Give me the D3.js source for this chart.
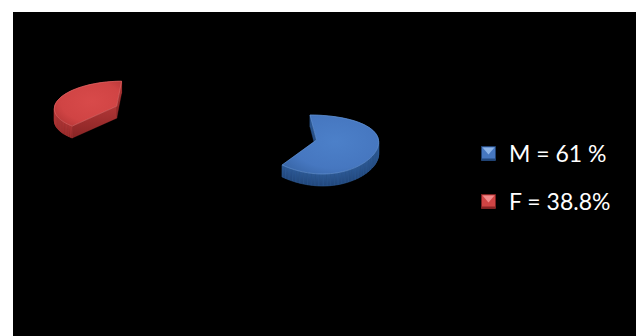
<!DOCTYPE html>
<html><head><meta charset="utf-8">
<script src="https://cdn.jsdelivr.net/npm/d3@7"></script>
<style>html,body{margin:0;padding:0;background:#fff;}svg{display:block;}</style>
</head><body>
<script>
// ---- data ----
const categories = ["M", "F"];
const values = [61, 38.8];
const legendLabels = ["M = 61 %", "F = 38.8%"];
const explode = [0, 3.43];

// ---- styles / 3D view (per slice perspective tweaks) ----
const palette = {
  M: {top: "#4677c0", topC: "#4c80c9", edge: "#3a68aa", side: "#2d5a96", sideDark: "#21467a", light: "#8db4e8", rim: "#6a98d8"},
  F: {top: "#d04444", topC: "#d84a4a", edge: "#b93838", side: "#b03636", sideDark: "#882424", light: "#f08a8a", rim: "#e47070"}
};
const view = {M: {kx: -0.026, ky: 0.153, skew: -6.3, ry: 28.8}, F: {kx: 0.022, ky: 0.022, skew: 5, ry: 25.5}};

const W = 638, H = 336;
const svg = d3.select("body").append("svg").attr("width", W).attr("height", H);
svg.append("rect").attr("x", 13).attr("y", 12).attr("width", 623).attr("height", 324).attr("fill", "#000");

const defs = svg.append("defs");
categories.forEach(c => {
  const p = palette[c];
  const g = defs.append("radialGradient").attr("id", "top" + c)
    .attr("cx", "55%").attr("cy", "45%").attr("r", "65%");
  g.append("stop").attr("offset", "0%").attr("stop-color", p.topC);
  g.append("stop").attr("offset", "70%").attr("stop-color", p.top);
  g.append("stop").attr("offset", "100%").attr("stop-color", p.edge);
  const s = defs.append("linearGradient").attr("id", "side" + c)
    .attr("x1", 0).attr("y1", 0).attr("x2", 0).attr("y2", 1);
  s.append("stop").attr("offset", "0%").attr("stop-color", p.side);
  s.append("stop").attr("offset", "100%").attr("stop-color", p.sideDark);
});

const cx = 316.5, cy = 140, rx = 62, ry0 = 28.8, depth = 12;
const pie = d3.pie().sort(null).startAngle(0).endAngle(2 * Math.PI);
const arcs = pie(values);

const g = svg.append("g");
arcs.forEach((d, i) => {
  const c = categories[i];
  const v = view[c];
  const mid = (d.startAngle + d.endAngle) / 2;
  const ox = cx + explode[i] * rx * Math.sin(mid);
  const oy = cy - explode[i] * ry0 * Math.cos(mid);
  const proj = (X, Z, down = 0) => {
    const wx = 1 + v.kx * Z, wy = 1 + v.ky * Z;
    return [ox + (rx * X + v.skew * Z) / wx, oy - v.ry * Z / wy + down];
  };
  const pa = (a, down = 0) => proj(Math.sin(a), Math.cos(a), down);
  const sg = g.append("g");
  const faces = [];
  const quad = (p1, p2) => {
    const q1 = [p1[0], p1[1] + depth], q2 = [p2[0], p2[1] + depth];
    return `M${p1}L${p2}L${q2}L${q1}Z`;
  };
  // radial cut faces
  [d.startAngle, d.endAngle].forEach(a => {
    const e = pa(a);
    faces.push({order: (oy + e[1]) / 2, d: quad([ox, oy], e)});
  });
  // outer wall, as strips
  const N = 60;
  const angs = d3.range(N + 1).map(k => d.startAngle + (d.endAngle - d.startAngle) * k / N);
  for (let k = 0; k < N; k++) {
    const p1 = pa(angs[k]), p2 = pa(angs[k + 1]);
    faces.push({order: (p1[1] + p2[1]) / 2, d: quad(p1, p2), wall: true});
  }
  faces.sort((a, b) => a.order - b.order).forEach(f => {
    sg.append("path").attr("d", f.d).attr("fill", `url(#side${c})`)
      .attr("stroke", palette[c].side).attr("stroke-width", f.wall ? 0.6 : 0.3).attr("stroke-linejoin", "round");
  });
  // top face
  const tp = d3.path();
  tp.moveTo(ox, oy);
  angs.forEach(a => { const q = pa(a); tp.lineTo(q[0], q[1]); });
  tp.closePath();
  sg.append("path").attr("d", tp.toString()).attr("fill", `url(#top${c})`)
    .attr("stroke", palette[c].rim).attr("stroke-opacity", 0.7).attr("stroke-width", 0.8)
    .attr("stroke-linejoin", "round");
});

// legend
const ly = d3.scalePoint().domain(categories).range([153.5, 201.5]);
const lg = svg.append("g");
categories.forEach((c, i) => {
  const y = ly(c), x = 481.5, s = 14;
  const p = palette[c];
  const mg = lg.append("g");
  mg.append("rect").attr("x", x).attr("y", y - s / 2).attr("width", s).attr("height", s).attr("fill", p.top);
  mg.append("path").attr("d", `M${x + 1},${y - s / 2 + 1}L${x + s - 1},${y - s / 2 + 1}L${x + s / 2},${y + 1}Z`).attr("fill", p.light);
  mg.append("rect").attr("x", x).attr("y", y + s / 2 - 2).attr("width", s).attr("height", 2).attr("fill", p.sideDark);
  mg.append("rect").attr("x", x).attr("y", y - s / 2).attr("width", s).attr("height", s).attr("fill", "none")
    .attr("stroke", p.sideDark).attr("stroke-width", 0.6);
  lg.append("text").attr("x", 509).attr("y", y + 8)
    .attr("font-family", "Lato, 'Open Sans', sans-serif").attr("font-size", 23)
    .attr("fill", "#fff").text(legendLabels[i]);
});
</script>
</body></html>
